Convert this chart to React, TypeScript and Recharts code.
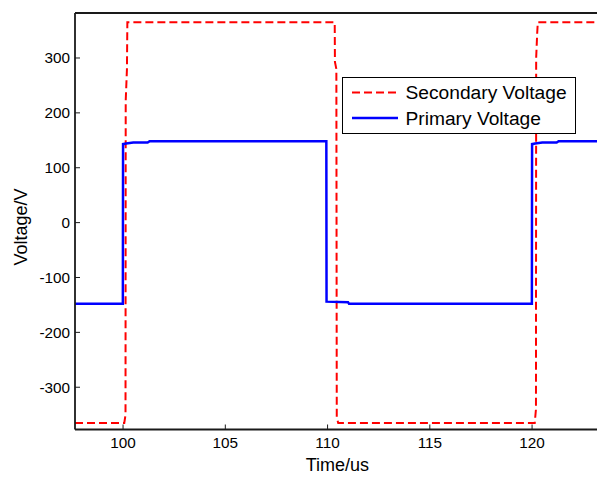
import React from 'react';
import { LineChart, Line, XAxis, YAxis, Legend, Label } from 'recharts';

const secondaryTime = [97.65, 100.06, 100.12, 100.13, 100.19, 100.21, 110.35, 110.36, 110.43, 110.45, 110.52, 120.13, 120.19, 120.2, 120.25, 120.28, 123.6];
const secondaryVolt = [-365, -365, -350, 222, 280, 365, 365, 293, 280, -355, -365, -365, -340, 300, 345, 365, 365];

const primaryTime = [97.65, 99.99, 100.0, 100.15, 100.5, 101.2, 101.3, 109.94, 109.95, 111.0, 111.05, 119.99, 120.0, 120.15, 120.5, 121.2, 121.3, 123.6];
const primaryVolt = [-148, -148, 143, 144, 146, 146, 148.5, 148.5, -144, -145, -148, -148, 143, 144, 146, 146, 148.5, 148.5];

const xTicks = [100, 105, 110, 115, 120];
const yTicks = [-300, -200, -100, 0, 100, 200, 300];
const xDomain = [97.65, 123.6];
const yDomain = [-377, 382];

const seriesNames = ['Secondary Voltage', 'Primary Voltage'];

const secondaryData = secondaryTime.map((t, i) => ({ t, v: secondaryVolt[i] }));
const primaryData = primaryTime.map((t, i) => ({ t, v: primaryVolt[i] }));

const FONT = '"Liberation Sans", Arial, sans-serif';
const AXIS = '#1a1a1a';

const LegendBox = () => (
  <svg width={235} height={58} style={{ display: 'block' }}>
    <rect x={0.5} y={0.5} width={233} height={56} fill="#fff" stroke="#000" strokeWidth={1} />
    <line x1={10} x2={56} y1={15.5} y2={15.5} stroke="#ff0000" strokeWidth={2} strokeDasharray="8 4" />
    <text x={63.5} y={15.5} dominantBaseline="central" fontSize={19.2} fontFamily={FONT} fill="#000">{seriesNames[0]}</text>
    <line x1={10} x2={56} y1={41} y2={41} stroke="#0000ff" strokeWidth={2.5} />
    <text x={63.5} y={41.5} dominantBaseline="central" fontSize={19.2} fontFamily={FONT} fill="#000">{seriesNames[1]}</text>
  </svg>
);

export default function App() {
  return (
    <div style={{ position: 'absolute', left: 0, top: 0, width: 597, height: 479, overflow: 'hidden', background: '#fff' }}>
      <LineChart width={620} height={479} margin={{ top: 0, right: 14.3, bottom: 19.5, left: 15 }}>
        <XAxis
          xAxisId="bottom"
          dataKey="t"
          type="number"
          domain={xDomain}
          ticks={xTicks}
          allowDataOverflow
          height={30}
          tickSize={-5}
          tickMargin={12.2}
          axisLine={{ stroke: AXIS, strokeWidth: 1.8 }}
          tickLine={{ stroke: AXIS, strokeWidth: 1 }}
          tick={{ fill: '#000', fontSize: 15.3, fontFamily: FONT }}
        >
          <Label
            content={(p: any) => {
              const vb = p.viewBox || {};
              return (
                <text x={vb.x + vb.width / 2 - 3} y={vb.y + 41.5} textAnchor="middle" fontSize={18} fontFamily={FONT} fill="#000">Time/us</text>
              );
            }}
          />
        </XAxis>
        <XAxis
          xAxisId="top"
          orientation="top"
          dataKey="t"
          type="number"
          domain={xDomain}
          ticks={xTicks}
          allowDataOverflow
          height={13}
          tickSize={-5}
          tick={false}
          axisLine={{ stroke: AXIS, strokeWidth: 1.8 }}
          tickLine={{ stroke: AXIS, strokeWidth: 1 }}
        />
        <YAxis
          type="number"
          domain={yDomain}
          ticks={yTicks}
          allowDataOverflow
          width={60}
          tickSize={-5}
          tickMargin={10}
          axisLine={{ stroke: AXIS, strokeWidth: 1.8 }}
          tickLine={{ stroke: AXIS, strokeWidth: 1 }}
          tick={{ fill: '#000', fontSize: 15.3, fontFamily: FONT }}
        >
          <Label
            content={() => {
              const x = 26.5;
              const y = 227;
              return (
                <text x={x} y={y} transform={`rotate(-90, ${x}, ${y})`} textAnchor="middle" fontSize={18} fontFamily={FONT} fill="#000">Voltage/V</text>
              );
            }}
          />
        </YAxis>
        <Line
          xAxisId="bottom"
          data={secondaryData}
          dataKey="v"
          name={seriesNames[0]}
          type="linear"
          stroke="#ff0000"
          strokeWidth={2}
          strokeDasharray="8 4"
          dot={false}
          activeDot={false}
          isAnimationActive={false}
        />
        <Line
          xAxisId="bottom"
          data={primaryData}
          dataKey="v"
          name={seriesNames[1]}
          type="linear"
          stroke="#0000ff"
          strokeWidth={2.5}
          dot={false}
          activeDot={false}
          isAnimationActive={false}
        />
        <Legend
          layout="vertical"
          align="center"
          verticalAlign="middle"
          wrapperStyle={{ left: 342, top: 77, width: 235, height: 58 }}
          content={() => <LegendBox />}
        />
      </LineChart>
    </div>
  );
}
